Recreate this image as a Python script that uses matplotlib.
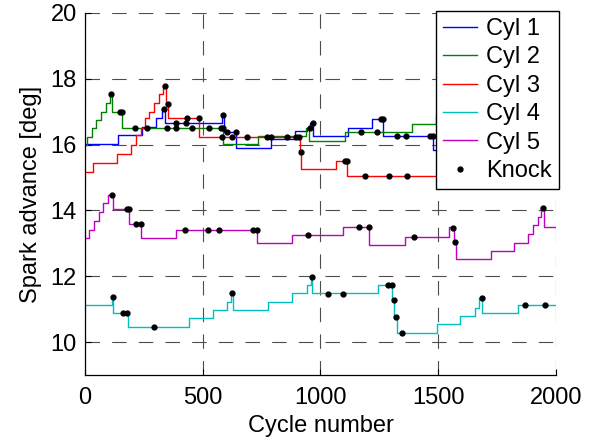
"""
Spark advance per cylinder over the engine cycles, with knock events.
"""

import matplotlib
matplotlib.use("Agg")
import matplotlib.pyplot as plt

# step controller output per cylinder: (cycle where the value changes, value)
cyl1_x = [0, 141, 240, 301, 325, 340, 582, 590, 641, 791, 891, 941, 955, 970,
          1116, 1217, 1267, 1479, 1620, 1800, 2000]
cyl1_y = [16.02, 16.30, 16.54, 16.80, 17.07, 16.65, 16.90, 16.39, 15.89, 16.16,
          16.41, 16.52, 16.67, 16.26, 16.51, 16.78, 16.26, 15.84, 16.10, 16.35, 16.35]

cyl2_x = [0, 9, 28, 47, 66, 89, 106, 114, 155, 584, 736, 938, 953, 1106, 1388,
          1490, 2000]
cyl2_y = [16.00, 16.24, 16.49, 16.75, 17.00, 17.27, 17.53, 17.00, 16.49, 16.01,
          16.25, 16.52, 16.11, 16.37, 16.63, 16.90, 16.90]

cyl3_x = [0, 35, 134, 194, 216, 237, 254, 273, 292, 314, 332, 345, 352, 484,
          912, 918, 1066, 1114, 2000]
cyl3_y = [15.18, 15.45, 15.71, 15.99, 16.29, 16.50, 16.80, 17.00, 17.27, 17.53,
          17.78, 17.23, 16.82, 16.22, 15.77, 15.25, 15.50, 15.05, 15.05]

cyl4_x = [0, 113, 120, 183, 441, 542, 601, 622, 628, 778, 877, 941, 958, 963,
          1245, 1304, 1313, 1323, 1493, 1594, 1655, 1674, 1686, 1839, 2000]
cyl4_y = [11.12, 11.38, 10.87, 10.45, 10.72, 10.97, 11.22, 11.50, 10.97, 11.22,
          11.48, 11.73, 11.99, 11.48, 11.73, 11.28, 10.77, 10.28, 10.55, 10.80,
          11.05, 11.33, 10.87, 11.12, 11.12]

cyl5_x = [0, 18, 38, 59, 78, 99, 117, 188, 236, 386, 729, 880, 1094, 1206, 1358,
          1546, 1568, 1574, 1722, 1821, 1882, 1903, 1924, 1938, 1948, 2000]
cyl5_y = [13.15, 13.42, 13.69, 13.94, 14.22, 14.47, 14.03, 13.59, 13.16, 13.42,
          13.00, 13.24, 13.50, 12.95, 13.20, 13.49, 13.03, 12.51, 12.77, 13.02,
          13.28, 13.56, 13.81, 14.06, 13.50, 13.50]

# detected knock events
knock_x = [110, 149, 156, 212, 262, 349, 385, 453, 528, 576, 584,
           340, 354, 432, 485, 580, 623, 690, 774, 790, 859, 894, 909, 917,
           1104, 1113, 1190, 1290, 1367,
           337, 385, 429, 584, 604, 641, 955, 969, 1259, 1266, 1326, 1361,
           1464, 1478, 1171, 1242,
           113, 177, 188, 216, 236, 426, 521, 567, 712, 729, 945, 1163, 1206,
           1398, 1563, 1570, 1943,
           117, 160, 180, 293, 625, 962, 1033, 1094, 1287, 1302, 1313, 1322,
           1344, 1686, 1868, 1955]
knock_y = [17.53, 17.0, 17.0, 16.49, 16.49, 16.49, 16.49, 16.49, 16.49, 16.49, 16.49,
           17.78, 17.23, 16.80, 16.80, 16.22, 16.22, 16.22, 16.22, 16.22, 16.22,
           16.22, 16.22, 15.77, 15.50, 15.50, 15.05, 15.05, 15.05,
           17.07, 16.65, 16.65, 16.90, 16.37, 16.37, 16.52, 16.67, 16.78, 16.78,
           16.26, 16.26, 16.26, 16.26, 16.37, 16.37,
           14.47, 14.03, 14.03, 13.59, 13.59, 13.42, 13.42, 13.42, 13.42, 13.42,
           13.24, 13.50, 13.50, 13.20, 13.46, 13.03, 14.06,
           11.38, 10.87, 10.87, 10.45, 11.50, 11.99, 11.46, 11.46, 11.73, 11.73,
           11.28, 10.77, 10.28, 11.33, 11.12, 11.12]

labels = ["Cyl 1", "Cyl 2", "Cyl 3", "Cyl 4", "Cyl 5"]
colors = [(0, 0, 1), (0, 0.5, 0), (1, 0, 0), (0, 0.75, 0.75), (0.75, 0, 0.75)]

plt.rcParams["font.family"] = ["Liberation Sans", "DejaVu Sans"]
plt.rcParams["font.size"] = 17

fig = plt.figure(figsize=(5.97, 4.43), dpi=100)
ax = fig.add_axes([0.1424, 0.1535, 0.7889, 0.8172])

series = [(cyl1_x, cyl1_y), (cyl2_x, cyl2_y), (cyl3_x, cyl3_y),
          (cyl4_x, cyl4_y), (cyl5_x, cyl5_y)]
for (xs, ys), lab, col in zip(series, labels, colors):
    ax.plot(xs, ys, drawstyle="steps-post", color=col, lw=1.0, label=lab)
ax.plot(knock_x, knock_y, ".", color="k", ms=7, label="Knock", zorder=4)

ax.set_xlim(0, 2000)
ax.set_ylim(9, 20)
ax.set_xticks([0, 500, 1000, 1500, 2000])
ax.set_yticks([10, 12, 14, 16, 18, 20])
ax.set_xlabel("Cycle number", labelpad=4)
ax.set_ylabel("Spark advance [deg]", labelpad=6)

ax.grid(True, color="0.3", lw=0.8, dashes=(13, 11))
ax.set_axisbelow(True)
for s in ["top", "right"]:
    ax.spines[s].set_visible(False)
for s in ["left", "bottom"]:
    ax.spines[s].set_linewidth(0.9)
ax.tick_params(direction="in", length=4, width=0.8, labelsize=17, pad=6)
ax.tick_params(axis="x", pad=9)

leg = ax.legend(loc="upper right", bbox_to_anchor=(1.0064, 1.0055),
                borderaxespad=0, fancybox=False, framealpha=1,
                edgecolor="k", numpoints=1, handlelength=1.45,
                labelspacing=0.27, handletextpad=0.38, borderpad=0.3,
                fontsize=17)
leg.get_frame().set_linewidth(1.0)

fig.savefig("out.png", dpi=100)
plt.close(fig)
